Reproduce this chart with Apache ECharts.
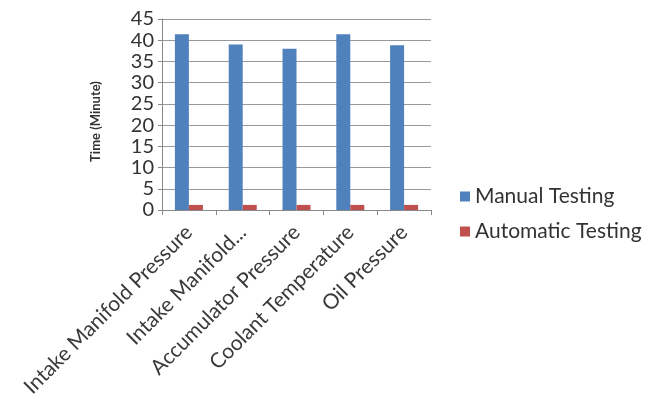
<!DOCTYPE html>
<html>
<head>
<meta charset="utf-8">
<script src="https://cdn.jsdelivr.net/npm/echarts@6/dist/echarts.min.js"></script>
<style>
  html, body { margin: 0; padding: 0; background: #fff; }
  #chart { width: 654px; height: 417px; }
</style>
</head>
<body>
<div id="chart"></div>
<script>
// 数据
const categories = ['Intake Manifold Pressure', 'Intake Manifold...', 'Accumulator Pressure', 'Coolant Temperature', 'Oil Pressure']
const manualTesting = [41.4, 39.0, 38.0, 41.4, 38.8]
const automaticTesting = [1.2, 1.2, 1.2, 1.2, 1.2]
const yTicks = [0, 45, 5] // min, max, interval

const chart = echarts.init(document.getElementById('chart'))
const font = 'Lato'
const option = {
  animation: false,
  textStyle: { fontFamily: font },
  grid: { left: 162, right: 223, top: 19, bottom: 207 },
  legend: {
    orient: 'vertical',
    left: 455,
    top: 181,
    itemWidth: 10,
    itemHeight: 10,
    itemGap: 14,
    icon: 'rect',
    textStyle: { fontFamily: font, fontSize: 21, color: '#333' },
    data: ['Manual Testing', 'Automatic Testing']
  },
  xAxis: {
    type: 'category',
    data: categories,
    axisLine: { lineStyle: { color: '#888' } },
    axisTick: { show: true, length: 5, lineStyle: { color: '#888' } },
    axisLabel: {
      rotate: 45,
      interval: 0,
      margin: 19,
      fontSize: 21,
      color: '#3a3a3a'
    }
  },
  yAxis: {
    type: 'value',
    min: yTicks[0],
    max: yTicks[1],
    interval: yTicks[2],
    name: 'Time (Minute)',
    nameLocation: 'middle',
    nameGap: 60,
    nameTextStyle: { fontSize: 13, fontWeight: 'bold', color: '#333', padding: [0, 14, 0, 0] },
    axisLine: { show: true, lineStyle: { color: '#888' } },
    axisTick: { show: true, length: 4, lineStyle: { color: '#888' } },
    splitLine: { lineStyle: { color: '#999' } },
    axisLabel: { fontSize: 20, color: '#333', margin: 8 }
  },
  series: [
    {
      name: 'Manual Testing',
      type: 'bar',
      data: manualTesting,
      barWidth: 14,
      barGap: '0%',
      itemStyle: { color: '#4F81BD' }
    },
    {
      name: 'Automatic Testing',
      type: 'bar',
      data: automaticTesting,
      barWidth: 14,
      itemStyle: { color: '#C0504D' }
    }
  ]
}
chart.setOption(option)
</script>
</body>
</html>
